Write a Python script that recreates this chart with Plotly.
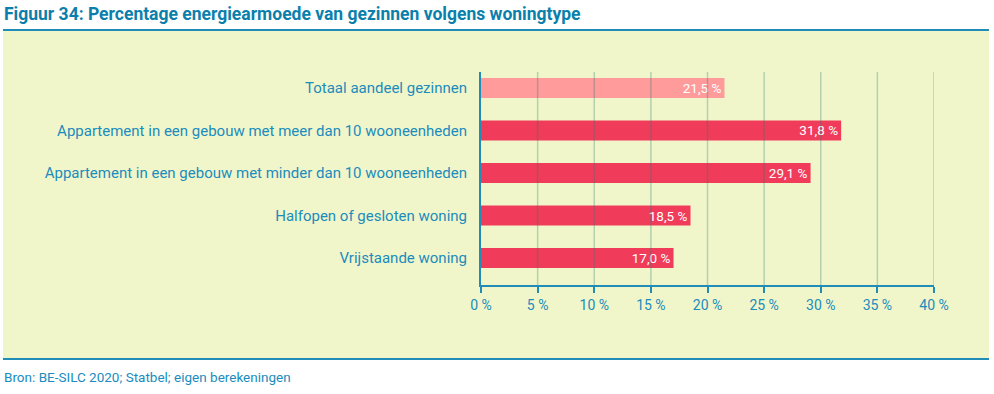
import plotly.graph_objects as go

categories = [
    "Vrijstaande woning",
    "Halfopen of gesloten woning",
    "Appartement in een gebouw met minder dan 10 wooneenheden",
    "Appartement in een gebouw met meer dan 10 wooneenheden",
    "Totaal aandeel gezinnen",
]
values = [17.0, 18.5, 29.1, 31.8, 21.5]
bar_colors = ["#f03c5a", "#f03c5a", "#f03c5a", "#f03c5a", "#ff9b9b"]
tick_vals = [0, 5, 10, 15, 20, 25, 30, 35, 40]
tick_text = [f"{v} %" for v in tick_vals]
labels = [f"{v:.1f}".replace(".", ",") + " %" for v in values]

W, H = 994, 394
L, R, T, B = 481, 934, 72, 285
TXT = "#1a8cbd"
TITLE = "#0b7fab"


def px_x(p):
    return (p - L) / (R - L)


def px_y(p):
    return (B - p) / (B - T)


fig = go.Figure()
fig.add_trace(go.Bar(
    y=categories, x=values, orientation="h",
    marker=dict(color=bar_colors, line=dict(width=0)),
    text=labels, textposition="inside", insidetextanchor="end",
    constraintext="none",
    textfont=dict(color="white", size=13.5, family="Roboto"),
    cliponaxis=False, hoverinfo="skip",
))

shapes = [
    dict(type="rect", xref="paper", yref="paper",
         x0=px_x(3), x1=px_x(989), y0=px_y(359), y1=px_y(30),
         fillcolor="#f1f6ca", line=dict(width=0), layer="below"),
    dict(type="line", xref="paper", yref="paper",
         x0=px_x(3), x1=px_x(989), y0=px_y(30), y1=px_y(30),
         line=dict(color="#1f8db8", width=2), layer="below"),
    dict(type="line", xref="paper", yref="paper",
         x0=px_x(3), x1=px_x(989), y0=px_y(359), y1=px_y(359),
         line=dict(color="#1f8db8", width=2), layer="below"),
]
for v in tick_vals[1:]:
    shapes.append(dict(type="line", xref="x", yref="paper", x0=v, x1=v, y0=0, y1=1,
                       line=dict(color="rgba(40,120,110,0.30)", width=1.5), layer="above"))

fig.update_layout(
    width=W, height=H,
    margin=dict(l=L, r=W - R, t=T, b=H - B, pad=0),
    paper_bgcolor="white", plot_bgcolor="rgba(0,0,0,0)",
    showlegend=False, bargap=0.53,
    font=dict(family="Roboto", color=TXT),
    shapes=shapes,
    xaxis=dict(range=[0, 40], tickvals=tick_vals, ticktext=tick_text,
               showgrid=False, zeroline=False,
               showline=True, linecolor="#1f8db8", linewidth=1.5,
               ticks="outside", ticklen=6, tickcolor="#1f8db8", tickwidth=1.5,
               tickfont=dict(size=14, color=TXT, family="Roboto"), fixedrange=True),
    yaxis=dict(range=[-0.635, 4.376], showgrid=False, zeroline=False,
               showline=True, linecolor="#1f8db8", linewidth=2,
               ticks="", ticklabelstandoff=9,
               tickfont=dict(size=15, color=TXT, family="Roboto"), fixedrange=True),
    annotations=[
        dict(text="<b>Figuur 34: Percentage energiearmoede van gezinnen volgens woningtype</b>",
             xref="paper", yref="paper", x=px_x(2), y=px_y(14),
             xanchor="left", yanchor="middle", showarrow=False,
             font=dict(size=17.5, color=TITLE, family="Roboto")),
        dict(text="Bron: BE-SILC 2020; Statbel; eigen berekeningen",
             xref="paper", yref="paper", x=px_x(2), y=px_y(377),
             xanchor="left", yanchor="middle", showarrow=False,
             font=dict(size=13.5, color=TXT, family="Roboto")),
    ],
)

fig.write_html("out.html", config={"displayModeBar": False},
               post_script="document.body.style.margin='0';document.body.style.padding='0';")
